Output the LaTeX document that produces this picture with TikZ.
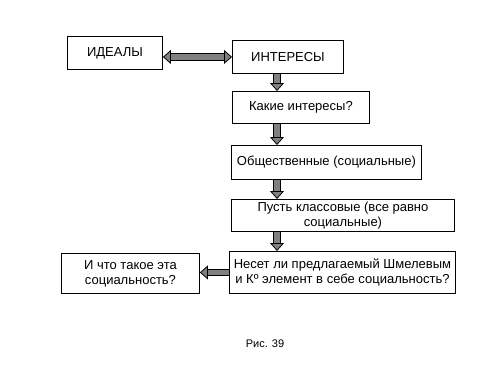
\documentclass[tikz,border=0pt]{standalone}
\usepackage{fontspec}
\setmainfont{Liberation Sans}
\usepackage{tikz}
\usetikzlibrary{arrows.meta}
\definecolor{StrelkaGray}{RGB}{128,128,128}

\tikzset{
  blok/.style={draw, line width=0.9pt, inner sep=0pt, anchor=north west, align=center,
    font=\fontsize{13}{15}\selectfont},
  strelka/.style={line width=0.8pt, draw=black, double=StrelkaGray, double distance=5.5pt,
    -{Triangle[length=8pt,width=14pt,color=black,fill=StrelkaGray,line width=0.8pt]}},
  dvestrelki/.style={strelka,
    {Triangle[length=8pt,width=14pt,color=black,fill=StrelkaGray,line width=0.8pt]}-{Triangle[length=8pt,width=14pt,color=black,fill=StrelkaGray,line width=0.8pt]}},
}

\begin{document}
\begin{tikzpicture}[x=1pt,y=-1pt]
  \useasboundingbox (0,0) rectangle (500,375);
  % bloki
  \node[blok,minimum width=95pt,minimum height=33pt]  (idealy)   at (67,36)  {ИДЕАЛЫ};
  \node[blok,minimum width=111pt,minimum height=33pt] (interesy) at (232,40) {ИНТЕРЕСЫ};
  \node[blok,minimum width=137pt,minimum height=32pt] (kakie)    at (232,91) {Какие интересы?};
  \node[blok,minimum width=190pt,minimum height=34pt] (obshch)   at (231,145) {Общественные (социальные)};
  \node[blok,minimum width=223pt,minimum height=32pt] (pust)     at (231,199) {Пусть классовые (все равно\\социальные)};
  \node[blok,minimum width=226pt,minimum height=42pt] (neset)    at (229,251) {Несет ли предлагаемый Шмелевым\\и Кº элемент в себе социальность?};
  \node[blok,minimum width=138pt,minimum height=40pt] (ichto)    at (61,253) {И что такое эта\\социальность?};
  \node[font=\fontsize{11}{13}\selectfont] (podpis) at (265,344) {Рис. 39};
  % strelki
  \coordinate (os) at (277,0);
  \draw[dvestrelki] (idealy.east |- interesy.west) -- (interesy.west);
  \draw[strelka] (interesy.south -| os) -- (kakie.north -| os);
  \draw[strelka] (kakie.south -| os) -- (obshch.north -| os);
  \draw[strelka] (obshch.south -| os) -- (pust.north -| os);
  \draw[strelka] (pust.south -| os) -- (neset.north -| os);
  \draw[strelka] (neset.west) -- (ichto.east |- neset.west);
\end{tikzpicture}
\end{document}
